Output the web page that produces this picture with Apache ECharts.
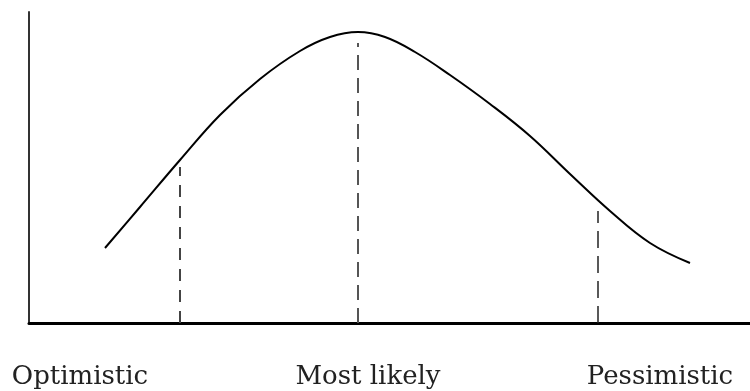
<!DOCTYPE html>
<html>
<head>
<meta charset="utf-8">
<style>
  html, body { margin: 0; padding: 0; background: #fff; }
  #chart { width: 750px; height: 391px; }
</style>
<script src="https://cdn.jsdelivr.net/npm/echarts@6/dist/echarts.min.js"></script>
</head>
<body>
<div id="chart"></div>
<script>
// curve (x = time, y = likelihood, arbitrary units)
var curveX = [76, 111, 151, 191, 231, 271, 301, 329, 356, 386, 421, 461, 501, 541, 581, 621, 661];
var curveY = [75, 116, 163, 208, 244, 272, 286, 291, 286, 271, 248, 219, 187, 149, 112, 80, 60];

// the three estimates and how high their dashed line reaches
var estimateX = [151, 329, 569];
var estimateTop = [156, 280, 112];

// text under the axis
var labelNames = ['Optimistic', 'Most likely', 'Pessimistic'];
var labelPos = [51, 339, 631];

var myChart = echarts.init(document.getElementById('chart'));

var curve = [];
for (var i = 0; i < curveX.length; i++) {
    curve.push([curveX[i], curveY[i]]);
}

function vline(k) {
    return [[estimateX[k], 0], [estimateX[k], estimateTop[k]]];
}

var dashStyles = [
    { color: '#444', width: 2, type: [12, 9] },
    { color: '#555', width: 2, type: [15, 8] },
    { color: '#222', width: 1.5, type: [17, 8] }
];

var series = [{
    type: 'line',
    data: curve,
    smooth: 0.4,
    symbol: 'none',
    silent: true,
    lineStyle: { color: '#000', width: 2 },
    z: 3
}];
for (var k = 0; k < estimateX.length; k++) {
    series.push({
        type: 'line',
        data: vline(k),
        symbol: 'none',
        silent: true,
        lineStyle: dashStyles[k],
        z: 2
    });
}

var option = {
    backgroundColor: '#fff',
    animation: false,
    grid: { left: 29, right: 0, top: 12, bottom: 68 },
    xAxis: {
        type: 'value',
        min: 0,
        max: 721,
        splitLine: { show: false },
        axisTick: { show: false },
        axisLine: { show: true, onZero: false, lineStyle: { color: '#000', width: 3 } },
        axisLabel: {
            customValues: labelPos,
            margin: 41,
            fontFamily: 'DejaVu Serif',
            fontSize: 26,
            color: '#222',
            formatter: function (v) {
                return labelNames[labelPos.indexOf(v)];
            }
        }
    },
    yAxis: {
        type: 'value',
        min: 0,
        max: 311,
        splitLine: { show: false },
        axisTick: { show: false },
        axisLabel: { show: false },
        axisLine: { show: true, lineStyle: { color: '#333', width: 2 } }
    },
    series: series
};

myChart.setOption(option);
</script>
</body>
</html>
